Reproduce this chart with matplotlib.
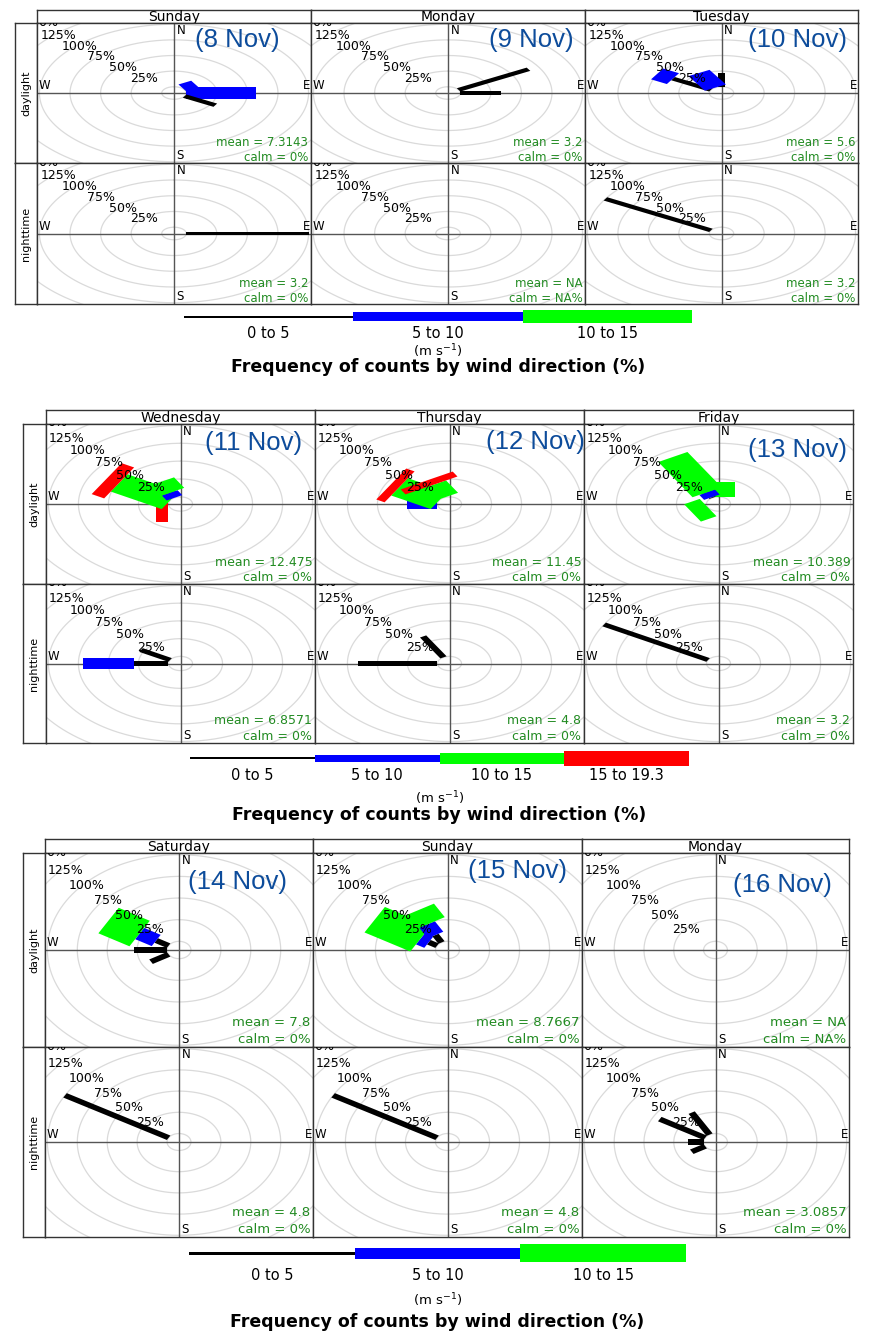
import numpy as np
import matplotlib
matplotlib.use('Agg')
import matplotlib.pyplot as plt
from matplotlib.patches import Polygon
from matplotlib.transforms import offset_copy

# ---------------- data ----------------
periods = ['daylight', 'nighttime']

days_1 = ['Sunday', 'Monday', 'Tuesday']
dates_1 = ['(8 Nov)', '(9 Nov)', '(10 Nov)']
bins_1 = ['0 to 5', '5 to 10', '10 to 15']
mean_day_1 = [7.3143, 3.2, 5.6]
mean_night_1 = [3.2, None, 3.2]
calm_day_1 = [0, 0, 0]
calm_night_1 = [0, None, 0]

days_2 = ['Wednesday', 'Thursday', 'Friday']
dates_2 = ['(11 Nov)', '(12 Nov)', '(13 Nov)']
bins_2 = ['0 to 5', '5 to 10', '10 to 15', '15 to 19.3']
mean_day_2 = [12.475, 11.45, 10.389]
mean_night_2 = [6.8571, 4.8, 3.2]
calm_day_2 = [0, 0, 0]
calm_night_2 = [0, 0, 0]

days_3 = ['Saturday', 'Sunday', 'Monday']
dates_3 = ['(14 Nov)', '(15 Nov)', '(16 Nov)']
bins_3 = ['0 to 5', '5 to 10', '10 to 15']
mean_day_3 = [7.8, 8.7667, None]
mean_night_3 = [4.8, 4.8, 3.0857]
calm_day_3 = [0, 0, None]
calm_night_3 = [0, 0, 0]

# wind direction (deg) -> frequency (%) stacked by speed bin
rose_d8 = [(60, [0, 12, 0]), (90, [0, 57, 0]), (120, [29, 0, 0])]
rose_n8 = [(90, [100, 0, 0])]
rose_d9 = [(60, [66, 0, 0]), (90, [33, 0, 0])]
rose_n9 = []
rose_d10 = [(0, [22, 0, 0]), (300, [36, 15, 0]), (330, [0, 27, 0])]
rose_n10 = [(300, [100, 0, 0])]

rose_d11 = [(270, [0, 0, 0, 10]), (300, [0, 0, 49, 12]), (330, [0, 8, 17, 0])]
rose_n11 = [(270, [29, 42, 0, 0]), (300, [28, 0, 0, 0])]
rose_d12 = [(270, [0, 25, 0, 0]), (300, [0, 0, 38, 8]), (330, [0, 0, 20, 8])]
rose_n12 = [(270, [66, 0, 0, 0]), (330, [34, 0, 0, 0])]
rose_d13 = [(0, [0, 0, 21, 0]), (240, [0, 0, 15, 0]), (330, [1, 8, 57, 0])]
rose_n13 = [(300, [100, 0, 0, 0])]

rose_d14 = [(240, [17, 0, 0]), (270, [28, 0, 0]), (300, [12, 16, 30])]
rose_n14 = [(300, [100, 0, 0])]
rose_d15 = [(300, [8, 8, 44]), (330, [10, 14, 18])]
rose_n15 = [(300, [100, 0, 0])]
rose_d16 = []
rose_n16 = [(240, [13, 0, 0]), (270, [13, 0, 0]), (300, [44, 0, 0]), (330, [30, 0, 0])]

# ---------------- layout / style ----------------
W, H = 873, 1339
fig = plt.figure(figsize=(W / 100, H / 100), dpi=100)

colors = ['black', '#0000ff', '#00ff00', '#ff0000']
L = 112
OFF = 10
rings = [10, 35, 60, 85, 110, 135, 160]
green_txt = '#228B22'
date_col = '#0d4c9b'


def px_axes(x0, y0, x1, y1):
    ax = fig.add_axes([x0 / W, 1 - y1 / H, (x1 - x0) / W, (y1 - y0) / H])
    ax.set_xticks([])
    ax.set_yticks([])
    for s in ax.spines.values():
        s.set_color('#333333')
        s.set_linewidth(1.0)
    return ax


def fmt(v):
    return 'NA' if v is None else f'{v:g}'


def draw_cell(ax, paddles, widths, mean, calm, cell_h, txt_fs, mean_px, calm_px):
    ax.set_xlim(-L, L)
    ax.set_ylim(-L, L)
    t = np.linspace(0, 2 * np.pi, 300)
    for r in rings:
        ax.plot(r * np.sin(t), r * np.cos(t), color='#dadada', lw=0.9, zorder=1)
    ax.axhline(0, color='#555555', lw=1.0, zorder=1.5)
    ax.axvline(0, color='#555555', lw=1.0, zorder=1.5)
    for wd, freqs in paddles:
        th = np.radians(wd)
        u = np.array([np.sin(th), np.cos(th)])
        p = np.array([np.cos(th), -np.sin(th)])
        r0 = OFF
        for j, f in enumerate(freqs):
            if f <= 0:
                continue
            r1 = r0 + f
            w = widths[j]
            pts = [r0 * u + w * p, r1 * u + w * p, r1 * u - w * p, r0 * u - w * p]
            ax.add_patch(Polygon(pts, closed=True, fc=colors[j], ec='none', zorder=3))
            r0 = r1
    for k, r in enumerate(rings[1:-1], 1):
        ax.text(-r * 0.70, r * 0.69 - 1, f'{25 * k}%', ha='center', va='center',
                fontsize=9, clip_on=True, zorder=4)
    # outermost ring label (150%) falls on the corner; only its tail shows
    tr = offset_copy(ax.transAxes, fig=fig, x=1, y=-2.5, units='dots')
    ax.text(0, 1, '0%', transform=tr, ha='left', va='baseline',
            fontsize=9, clip_on=True, zorder=4)
    ax.text(2, L - 1, 'N', ha='left', va='top', fontsize=8.5, zorder=4)
    ax.text(2, -L + 1, 'S', ha='left', va='bottom', fontsize=8.5, zorder=4)
    ax.text(-L + 1, 1, 'W', ha='left', va='bottom', fontsize=8.5, zorder=4)
    ax.text(L - 1, 1, 'E', ha='right', va='bottom', fontsize=8.5, zorder=4)
    ax.text(0.99, mean_px / cell_h, f'mean = {fmt(mean)}', transform=ax.transAxes,
            ha='right', va='center', fontsize=txt_fs, color=green_txt, zorder=4)
    ax.text(0.99, calm_px / cell_h, f'calm = {fmt(calm)}%', transform=ax.transAxes,
            ha='right', va='center', fontsize=txt_fs, color=green_txt, zorder=4)


panels = [
    dict(days=days_1, dates=dates_1, bins=bins_1,
         roses=[[rose_d8, rose_d9, rose_d10], [rose_n8, rose_n9, rose_n10]],
         means=[mean_day_1, mean_night_1], calms=[calm_day_1, calm_night_1],
         widths=[3, 10, 14], txt_fs=8.5, mean_px=20.5, calm_px=5.5,
         cols=[37, 311, 585, 858], rows=[23, 163, 304], strip=10, rowstrip=15,
         key_x=[184, 692], key_y=317, key_h=[2, 9, 13], lab_y=333, unit_y=351, title_y=367,
         date_xy=[(237, 40), (531, 40), (797, 40)]),
    dict(days=days_2, dates=dates_2, bins=bins_2,
         roses=[[rose_d11, rose_d12, rose_d13], [rose_n11, rose_n12, rose_n13]],
         means=[mean_day_2, mean_night_2], calms=[calm_day_2, calm_night_2],
         widths=[3, 7.5, 14, 25], txt_fs=9, mean_px=22, calm_px=6.5,
         cols=[46, 315, 584, 853], rows=[424, 584, 743], strip=410, rowstrip=23,
         key_x=[190, 689], key_y=758, key_h=[2, 7, 11, 15], lab_y=776, unit_y=798, title_y=815,
         date_xy=[(254, 443), (535, 442), (797, 450)]),
    dict(days=days_3, dates=dates_3, bins=bins_3,
         roses=[[rose_d14, rose_d15, rose_d16], [rose_n14, rose_n15, rose_n16]],
         means=[mean_day_3, mean_night_3], calms=[calm_day_3, calm_night_3],
         widths=[3, 7.5, 17], txt_fs=9.5, mean_px=25, calm_px=7.5,
         cols=[45, 313, 582, 849], rows=[853, 1047, 1237], strip=839, rowstrip=23,
         key_x=[189, 686], key_y=1253, key_h=[3, 11, 18], lab_y=1275, unit_y=1300, title_y=1322,
         date_xy=[(238, 882), (518, 871), (782, 885)]),
]

for pn in panels:
    cols, rows = pn['cols'], pn['rows']
    # day strips
    for c in range(3):
        ax = px_axes(cols[c], pn['strip'], cols[c + 1], rows[0])
        ax.text(0.5, 0.45, pn['days'][c], ha='center', va='center', fontsize=10)
    # row strips
    for r in range(2):
        ax = px_axes(pn['rowstrip'], rows[r], cols[0], rows[r + 1])
        ax.text(0.5, 0.5, periods[r], ha='center', va='center', rotation=90, fontsize=8)
    # cells
    for r in range(2):
        for c in range(3):
            ax = px_axes(cols[c], rows[r], cols[c + 1], rows[r + 1])
            draw_cell(ax, pn['roses'][r][c], pn['widths'], pn['means'][r][c],
                      pn['calms'][r][c], rows[r + 1] - rows[r], pn['txt_fs'],
                      pn['mean_px'], pn['calm_px'])
    # date labels
    for (x, y), s in zip(pn['date_xy'], pn['dates']):
        fig.text(x / W, 1 - y / H, s, ha='center', va='center', fontsize=18.5,
                 color=date_col, family='Liberation Sans')
    # key
    n = len(pn['bins'])
    kx0, kx1 = pn['key_x']
    hmax = 22
    kax = fig.add_axes([kx0 / W, 1 - (pn['key_y'] + hmax / 2) / H, (kx1 - kx0) / W, hmax / H])
    kax.set_xlim(0, n)
    kax.set_ylim(-hmax / 2, hmax / 2)
    kax.axis('off')
    kax.barh([0] * n, [1] * n, left=np.arange(n), height=pn['key_h'][:n],
             color=colors[:n], edgecolor='none')
    seg = (kx1 - kx0) / n
    for i, lab in enumerate(pn['bins']):
        fig.text((kx0 + seg * (i + 0.5)) / W, 1 - pn['lab_y'] / H, lab, ha='center',
                 va='center', fontsize=10.5)
    fig.text(((kx0 + kx1) / 2) / W, 1 - pn['unit_y'] / H, '(m s$^{-1}$)', ha='center',
             va='center', fontsize=9.5)
    fig.text(((kx0 + kx1) / 2) / W, 1 - pn['title_y'] / H,
             'Frequency of counts by wind direction (%)', ha='center', va='center',
             fontsize=12.5, fontweight='bold')

fig.savefig('out.png', dpi=100)
